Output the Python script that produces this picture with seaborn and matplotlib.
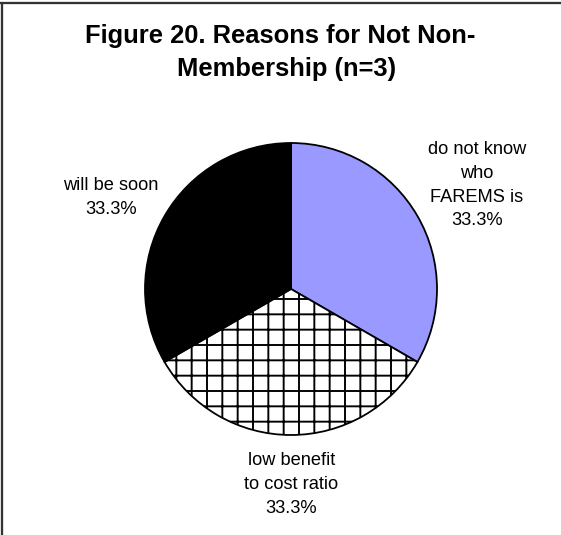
import matplotlib
matplotlib.use("Agg")
import matplotlib.pyplot as plt
import seaborn as sns
from matplotlib.lines import Line2D

# Survey responses: reasons given for not holding membership
reasons = ["do not know\nwho\nFAREMS is", "low benefit\nto cost ratio", "will be soon"]
counts = [1, 1, 1]
slice_colors = ["#9999FF", "white", "black"]
slice_hatches = ["", "+", ""]
title_lines = ["Figure 20. Reasons for Not Non-", "Membership (n=3)"]

sns.set_theme(style="white")
plt.rcParams["font.family"] = ["Liberation Sans", "DejaVu Sans"]
plt.rcParams["hatch.linewidth"] = 1.5

DPI = 92
W, H = 561, 535
fig = plt.figure(figsize=(W / DPI, H / DPI), dpi=DPI)
fig.patch.set_facecolor("white")
ax = fig.add_axes([0, 0, 1, 1])

# pie in pixel-space data coordinates (y measured from the bottom)
cx, cy, r = 291, H - 289, 146
wedges, _ = ax.pie(
    counts,
    colors=slice_colors,
    startangle=90,
    counterclock=False,
    center=(cx, cy),
    radius=r,
    wedgeprops=dict(edgecolor="black", linewidth=1.4),
    frame=True,
)
for w, h in zip(wedges, slice_hatches):
    w.set_hatch(h)
ax.set_xlim(0, W)
ax.set_ylim(0, H)
ax.set_aspect("equal")
ax.axis("off")

total = sum(counts)
pcts = [f"{100 * c / total:.1f}%" for c in counts]

# label anchor: (centre x, first baseline y) in pixels from the top
label_pos = [(477, 154), (291.5, 465), (111, 190)]
line_gap = 23.8
label_size = 18.2 * 72 / DPI
for text, pct, (lx, ly) in zip(reasons, pcts, label_pos):
    lines = text.split("\n") + [pct]
    for i, ln in enumerate(lines):
        ax.text(lx, H - (ly + i * line_gap), ln, ha="center", va="baseline",
                fontsize=label_size, color="black")

# two-line bold title
title_size = 25.5 * 72 / DPI
ax.text(280, H - 43, title_lines[0], ha="center", va="baseline",
        fontsize=title_size, fontweight="bold", color="black")
ax.text(287, H - 76, title_lines[1], ha="center", va="baseline",
        fontsize=title_size, fontweight="bold", color="black")

# chart-area frame (top and left edges)
fig.add_artist(Line2D([0, 1], [1 - 3 / H, 1 - 3 / H], transform=fig.transFigure,
                      color="#333333", linewidth=1.8))
fig.add_artist(Line2D([1.5 / W, 1.5 / W], [0, 1 - 3 / H], transform=fig.transFigure,
                      color="#333333", linewidth=1.8))

fig.savefig("out.png", dpi=DPI, facecolor="white")
